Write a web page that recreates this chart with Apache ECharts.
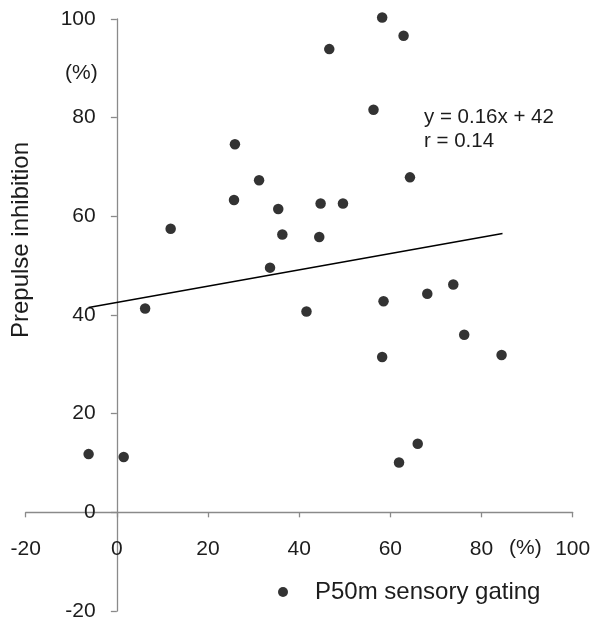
<!DOCTYPE html>
<html>
<head>
<meta charset="utf-8">
<script src="https://cdn.jsdelivr.net/npm/echarts@6/dist/echarts.min.js"></script>
<style>html,body{margin:0;padding:0;background:#fff;}#c{width:600px;height:630px;}</style>
</head>
<body>
<div id="c"></div>
<script>
// P50m sensory gating (%) vs Prepulse inhibition (%)
var gatingX = [-6.2, 1.5, 6.2, 11.8, 25.9, 25.7, 31.2, 33.6, 35.4, 36.3, 41.6, 44.4, 44.7, 46.6, 49.6, 56.3, 58.2, 58.2, 58.5, 61.9, 62.9, 64.3, 66.0, 68.1, 73.8, 76.2, 84.4];
var ppiY    = [11.8, 11.2, 41.3, 57.5, 74.6, 63.3, 67.3, 49.6, 61.5, 56.3, 40.7, 55.8, 62.6, 93.9, 62.6, 81.6, 100.3, 31.5, 42.8, 10.1, 96.6, 67.9, 13.9, 44.3, 46.2, 36.0, 31.9];
var fitLineX = [-6.2, 84.6];
var fitLineY = [41.5, 56.5];
var axisTicks = [-20, 0, 20, 40, 60, 80, 100];
var seriesName = 'P50m sensory gating';
var yName = 'Prepulse inhibition';
var eqText = 'y = 0.16x + 42';
var rText = 'r = 0.14';

var points = gatingX.map(function (x, i) { return [x, ppiY[i]]; });
var fit = fitLineX.map(function (x, i) { return [x, fitLineY[i]]; });

var FONT = '"Liberation Sans", Arial, sans-serif';
var chart = echarts.init(document.getElementById('c'), null, {renderer: 'canvas'});
function makeAxis(labelMargin, tickLen) {
  return {
    type: 'value',
    min: axisTicks[0],
    max: axisTicks[axisTicks.length - 1],
    interval: 20,
    splitLine: {show: false},
    axisLine: {onZero: true, lineStyle: {color: '#8a8a8a', width: 1.3}},
    axisTick: {show: true, inside: false, length: tickLen, lineStyle: {color: '#8a8a8a', width: 1.3}},
    axisLabel: {color: '#1c1c1c', fontSize: 21, fontFamily: FONT, margin: labelMargin, showMinLabel: true, showMaxLabel: true}
  };
}

chart.setOption({
  animation: false,
  backgroundColor: '#ffffff',
  grid: {left: 25.7, right: 27.3, top: 19, bottom: 19, containLabel: false, outerBoundsMode: 'none'},
  xAxis: makeAxis(-72, 5),
  yAxis: makeAxis(-70, 6),
  legend: {
    data: [seriesName],
    left: 278, top: 580, padding: 0,
    icon: 'circle', itemWidth: 10, itemHeight: 10,
    textStyle: {fontSize: 24, fontFamily: FONT, color: '#1c1c1c', padding: [0, 0, 0, 22], lineHeight: 24}
  },
  graphic: [
    {type: 'text', left: 65, top: 63, style: {text: '(%)', fontSize: 21, fontFamily: FONT, fill: '#1c1c1c'}},
    {type: 'text', left: 509, top: 538, style: {text: '(%)', fontSize: 21, fontFamily: FONT, fill: '#1c1c1c'}},
    {type: 'text', left: 424, top: 105, style: {text: eqText + '\n' + rText, fontSize: 20.5, lineHeight: 24, fontFamily: FONT, fill: '#1c1c1c'}},
    {type: 'text', x: 21, y: 240, rotation: Math.PI / 2, style: {text: yName, fontSize: 24, fontFamily: FONT, fill: '#1c1c1c', align: 'center', verticalAlign: 'middle'}}
  ],
  series: [
    {
      name: seriesName, type: 'scatter', data: points, symbol: 'circle', symbolSize: 10.5, clip: false,
      itemStyle: {color: '#000000'}
    },
    {
      name: 'fit', type: 'line', data: fit, symbol: 'none', clip: false,
      lineStyle: {color: '#000000', width: 1.5}
    }
  ]
});
</script>
</body>
</html>
